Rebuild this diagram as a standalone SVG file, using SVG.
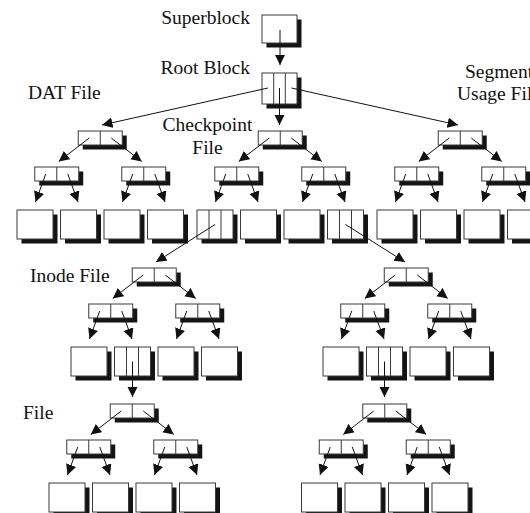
<svg xmlns="http://www.w3.org/2000/svg" xmlns:xlink="http://www.w3.org/1999/xlink" width="530" height="513" viewBox="0 0 530 513">
  <style>
    .label { font-family: "Liberation Serif", "Times New Roman", serif; font-size: 19.5px; fill: #111; }
    .box { fill: #fff; stroke: #3a3a3a; stroke-width: 1; }
    .shadow { fill: #141414; }
    .div { stroke: #3a3a3a; stroke-width: 1; }
    .conn line { stroke: #111; stroke-width: 1; marker-end: url(#arrow); }
  </style>
  <defs>
    <marker id="arrow" markerUnits="userSpaceOnUse" markerWidth="11" markerHeight="11" refX="10.5" refY="5.25" orient="auto">
      <path d="M0,0 L10.5,5.25 L0,10.5 Z" fill="#111"/>
    </marker>
    <!-- two-pointer index block -->
    <g id="idx">
      <rect class="shadow" x="4.5" y="4.5" width="44" height="14"/>
      <rect class="box" x="0" y="0" width="44" height="14"/>
      <line class="div" x1="22" y1="0" x2="22" y2="14"/>
    </g>
    <!-- plain data block -->
    <g id="leaf">
      <rect class="shadow" x="4.5" y="4.5" width="36" height="29"/>
      <rect class="box" x="0" y="0" width="36" height="29"/>
    </g>
    <!-- data block holding three entries -->
    <g id="leaf3">
      <rect class="shadow" x="4.5" y="4.5" width="36" height="29"/>
      <rect class="box" x="0" y="0" width="36" height="29"/>
      <line class="div" x1="12" y1="0" x2="12" y2="29"/>
      <line class="div" x1="24" y1="0" x2="24" y2="29"/>
    </g>
  </defs>

  <rect width="530" height="513" fill="#fff"/>

  <!-- labels -->
  <g id="labels">
    <text class="label" x="250" y="24" text-anchor="end">Superblock</text>
    <text class="label" x="250" y="74" text-anchor="end">Root Block</text>
    <text class="label" x="28" y="99">DAT File</text>
    <text class="label" x="207.5" y="131" text-anchor="middle">Checkpoint</text>
    <text class="label" x="207.5" y="154" text-anchor="middle">File</text>
    <text class="label" x="499" y="78" text-anchor="middle">Segment</text>
    <text class="label" x="499" y="100" text-anchor="middle">Usage File</text>
    <text class="label" x="30" y="282">Inode File</text>
    <text class="label" x="23" y="419">File</text>
  </g>

  <!-- superblock and root -->
  <g id="superblock">
    <rect class="shadow" x="266.5" y="19.5" width="35" height="28"/>
    <rect class="box" x="262" y="15" width="35" height="28"/>
  </g>
  <g id="root-block">
    <rect class="shadow" x="266.5" y="77.5" width="35" height="31"/>
    <rect class="box" x="262" y="73" width="35" height="31"/>
    <line class="div" x1="273.7" y1="73" x2="273.7" y2="104"/>
    <line class="div" x1="285.3" y1="73" x2="285.3" y2="104"/>
  </g>

  <!-- DAT file tree -->
  <g id="dat-file">
    <use xlink:href="#idx" x="78.25" y="131"/>
    <use xlink:href="#idx" x="34.75" y="167"/>
    <use xlink:href="#idx" x="121.75" y="167"/>
    <use xlink:href="#leaf" x="17" y="210"/>
    <use xlink:href="#leaf" x="60.5" y="210"/>
    <use xlink:href="#leaf" x="104" y="210"/>
    <use xlink:href="#leaf" x="147.5" y="210"/>
  </g>

  <!-- checkpoint file tree -->
  <g id="checkpoint-file">
    <use xlink:href="#idx" x="258.25" y="131"/>
    <use xlink:href="#idx" x="214.75" y="167"/>
    <use xlink:href="#idx" x="301.75" y="167"/>
    <use xlink:href="#leaf3" x="197" y="210"/>
    <use xlink:href="#leaf" x="240.5" y="210"/>
    <use xlink:href="#leaf" x="284" y="210"/>
    <use xlink:href="#leaf3" x="327.5" y="210"/>
  </g>

  <!-- segment usage file tree -->
  <g id="segment-usage-file">
    <use xlink:href="#idx" x="438.25" y="131"/>
    <use xlink:href="#idx" x="394.75" y="167"/>
    <use xlink:href="#idx" x="481.75" y="167"/>
    <use xlink:href="#leaf" x="377" y="210"/>
    <use xlink:href="#leaf" x="420.5" y="210"/>
    <use xlink:href="#leaf" x="464" y="210"/>
    <use xlink:href="#leaf" x="507.5" y="210"/>
  </g>

  <!-- inode file trees -->
  <g id="inode-file-left">
    <use xlink:href="#idx" x="132.25" y="268"/>
    <use xlink:href="#idx" x="88.75" y="304"/>
    <use xlink:href="#idx" x="175.75" y="304"/>
    <use xlink:href="#leaf" x="71" y="347"/>
    <use xlink:href="#leaf3" x="114.5" y="347"/>
    <use xlink:href="#leaf" x="158" y="347"/>
    <use xlink:href="#leaf" x="201.5" y="347"/>
  </g>
  <g id="inode-file-right">
    <use xlink:href="#idx" x="384.25" y="268"/>
    <use xlink:href="#idx" x="340.75" y="304"/>
    <use xlink:href="#idx" x="427.75" y="304"/>
    <use xlink:href="#leaf" x="323" y="347"/>
    <use xlink:href="#leaf3" x="366.5" y="347"/>
    <use xlink:href="#leaf" x="410" y="347"/>
    <use xlink:href="#leaf" x="453.5" y="347"/>
  </g>

  <!-- regular file trees -->
  <g id="file-left">
    <use xlink:href="#idx" x="110.25" y="404"/>
    <use xlink:href="#idx" x="66.75" y="440"/>
    <use xlink:href="#idx" x="153.75" y="440"/>
    <use xlink:href="#leaf" x="49" y="483"/>
    <use xlink:href="#leaf" x="92.5" y="483"/>
    <use xlink:href="#leaf" x="136" y="483"/>
    <use xlink:href="#leaf" x="179.5" y="483"/>
  </g>
  <g id="file-right">
    <use xlink:href="#idx" x="362.75" y="404"/>
    <use xlink:href="#idx" x="319.25" y="440"/>
    <use xlink:href="#idx" x="406.25" y="440"/>
    <use xlink:href="#leaf" x="301.5" y="483"/>
    <use xlink:href="#leaf" x="345" y="483"/>
    <use xlink:href="#leaf" x="388.5" y="483"/>
    <use xlink:href="#leaf" x="432" y="483"/>
  </g>

  <!-- pointers -->
  <g id="connectors" class="conn">
    <line x1="280" y1="30" x2="280" y2="65"/>
    <line x1="268" y1="88" x2="102" y2="125"/>
    <line x1="279.5" y1="88" x2="279.5" y2="125"/>
    <line x1="291.5" y1="88" x2="458" y2="125"/>

    <line x1="89.25" y1="138" x2="58.75" y2="161.5"/>
    <line x1="111.25" y1="138" x2="141.75" y2="161.5"/>
    <line x1="45.75" y1="174" x2="35.5" y2="202"/>
    <line x1="67.75" y1="174" x2="78" y2="202"/>
    <line x1="132.75" y1="174" x2="122.5" y2="202"/>
    <line x1="154.75" y1="174" x2="165" y2="202"/>

    <line x1="269.25" y1="138" x2="238.75" y2="161.5"/>
    <line x1="291.25" y1="138" x2="321.75" y2="161.5"/>
    <line x1="225.75" y1="174" x2="215.5" y2="202"/>
    <line x1="247.75" y1="174" x2="258" y2="202"/>
    <line x1="312.75" y1="174" x2="302.5" y2="202"/>
    <line x1="334.75" y1="174" x2="345" y2="202"/>

    <line x1="449.25" y1="138" x2="418.75" y2="161.5"/>
    <line x1="471.25" y1="138" x2="501.75" y2="161.5"/>
    <line x1="405.75" y1="174" x2="395.5" y2="202"/>
    <line x1="427.75" y1="174" x2="438" y2="202"/>
    <line x1="492.75" y1="174" x2="482.5" y2="202"/>
    <line x1="514.75" y1="174" x2="525" y2="202"/>

    <line x1="215" y1="224.5" x2="156" y2="262"/>
    <line x1="345.5" y1="224.5" x2="405" y2="262"/>

    <line x1="143.25" y1="275" x2="112.75" y2="298.5"/>
    <line x1="165.25" y1="275" x2="195.75" y2="298.5"/>
    <line x1="99.75" y1="311" x2="89.5" y2="339"/>
    <line x1="121.75" y1="311" x2="132" y2="339"/>
    <line x1="186.75" y1="311" x2="176.5" y2="339"/>
    <line x1="208.75" y1="311" x2="219" y2="339"/>

    <line x1="395.25" y1="275" x2="364.75" y2="298.5"/>
    <line x1="417.25" y1="275" x2="447.75" y2="298.5"/>
    <line x1="351.75" y1="311" x2="341.5" y2="339"/>
    <line x1="373.75" y1="311" x2="384" y2="339"/>
    <line x1="438.75" y1="311" x2="428.5" y2="339"/>
    <line x1="460.75" y1="311" x2="471" y2="339"/>

    <line x1="132.5" y1="361.5" x2="132.5" y2="397"/>
    <line x1="384.5" y1="361.5" x2="384.5" y2="397"/>

    <line x1="121.25" y1="411" x2="90.75" y2="434.5"/>
    <line x1="143.25" y1="411" x2="173.75" y2="434.5"/>
    <line x1="77.75" y1="447" x2="67.5" y2="475"/>
    <line x1="99.75" y1="447" x2="110" y2="475"/>
    <line x1="164.75" y1="447" x2="154.5" y2="475"/>
    <line x1="186.75" y1="447" x2="197" y2="475"/>

    <line x1="373.75" y1="411" x2="343.25" y2="434.5"/>
    <line x1="395.75" y1="411" x2="426.25" y2="434.5"/>
    <line x1="330.25" y1="447" x2="320" y2="475"/>
    <line x1="352.25" y1="447" x2="362.5" y2="475"/>
    <line x1="417.25" y1="447" x2="407" y2="475"/>
    <line x1="439.25" y1="447" x2="449.5" y2="475"/>
  </g>
</svg>
